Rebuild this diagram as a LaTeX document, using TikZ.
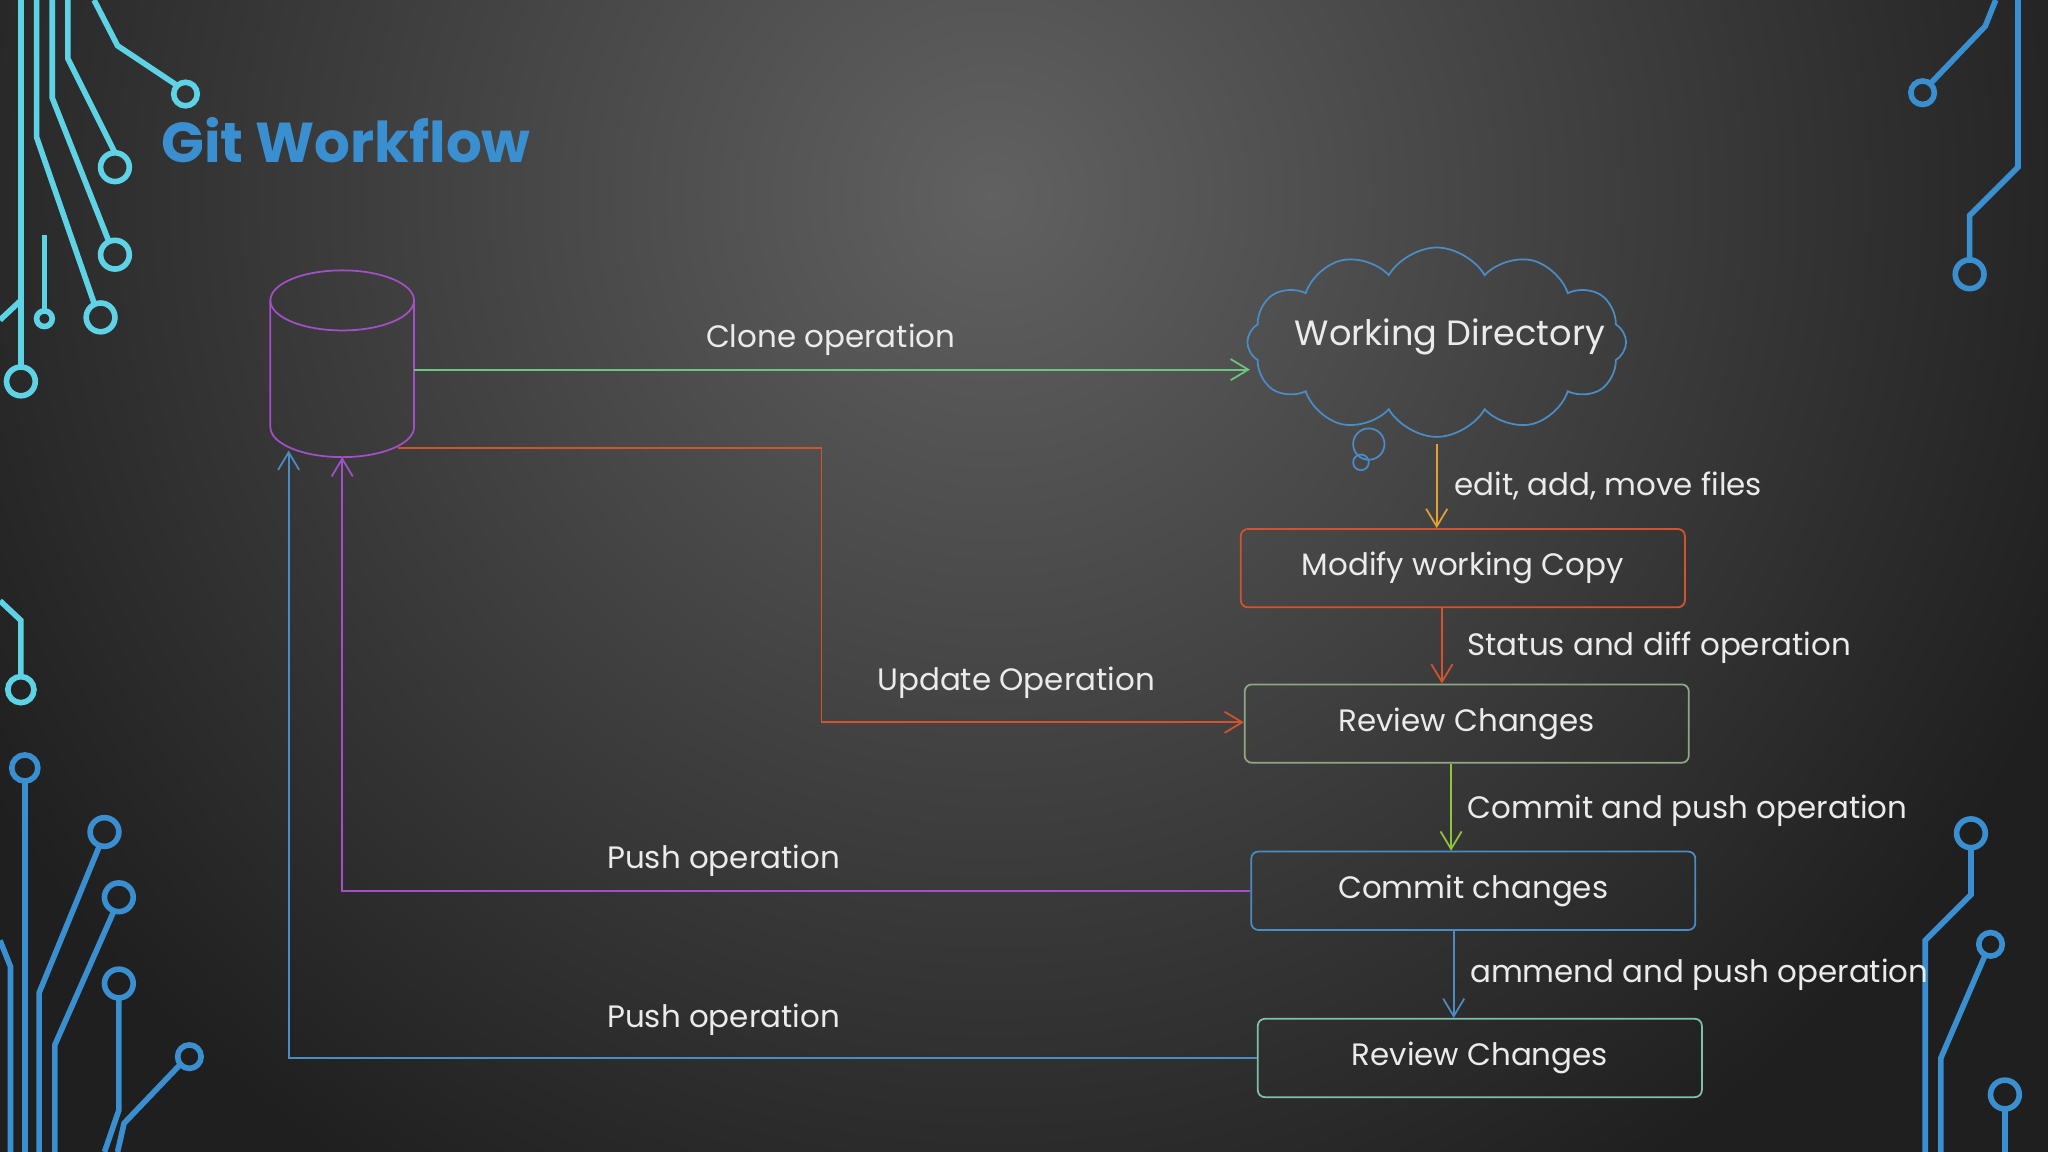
\documentclass[tikz,border=0pt]{standalone}
\usepackage{fontspec}
\setmainfont{Poppins}
\usetikzlibrary{shapes.symbols,arrows.meta}
\definecolor{cy}{HTML}{5ED3E6}
\definecolor{bl}{HTML}{3A8FD0}
\definecolor{pu}{HTML}{A24FC8}
\definecolor{gr}{HTML}{6FC383}
\definecolor{orr}{HTML}{D4532F}
\definecolor{org}{HTML}{E3A033}
\definecolor{lg}{HTML}{8FC43D}
\definecolor{cb}{HTML}{4A8CC4}
\definecolor{rv}{HTML}{8FA784}
\definecolor{rv2}{HTML}{7FC0A8}
\newlength\pxu \setlength\pxu{0.013061cm}
\tikzset{
 lbl/.style={text=white!92!black,font=\fontsize{8.8}{10}\selectfont,inner sep=0pt},
 bx/.style={draw,rounded corners=2pt,minimum width=340\pxu,minimum height=60\pxu,line width=0.5pt,lbl},
 ar/.style={line width=0.5pt,-{Straight Barb[length=5pt,width=6pt]}},
 deco/.style={line width=1.6pt},
}
\begin{document}
\begin{tikzpicture}[x=0.013061cm,y=-0.013061cm]
\useasboundingbox (0,0) rectangle (1568,882);
\fill[black!88] (0,0) rectangle (1568,882);
\begin{scope}
\clip (0,0) rectangle (1568,882);
\shade[inner color=black!62,outer color=black!88] (760,150) circle (900);
\end{scope}
% decorations
\begin{scope}[deco,cy]
\draw (16,0)--(16,281); \draw (16,292) circle (11);
\draw (40,0)--(40,75)--(83,184); \draw (88,195) circle (11);
\draw (72,0)--(90,35)--(135,65); \draw (142,72) circle (9);
\draw (28,0)--(28,105)--(72,232); \draw (77,243) circle (11);
\draw (52,0)--(52,45)--(88,117); \draw (88,128) circle (11);
\draw (34,180)--(34,238); \draw (34,244) circle (6);
\draw (0,245)--(16,230);
\draw (0,460)--(16,475)--(16,518); \draw (16,528) circle (10);
\end{scope}
\begin{scope}[deco,bl]
\draw (19,598)--(19,882); \draw (19,588) circle (10);
\draw (76,648)--(30,760)--(30,882); \draw (80,637) circle (11);
\draw (87,698)--(42,800)--(42,882); \draw (91,687) circle (11);
\draw (91,764)--(91,850)--(80,882); \draw (91,753) circle (11);
\draw (138,815)--(95,860)--(90,882); \draw (145,809) circle (9);
\draw (0,720)--(8,740)--(8,882);
\draw (1478,64)--(1520,20)--(1528,0); \draw (1472,71) circle (9);
\draw (1508,199)--(1508,165)--(1545,128)--(1545,0); \draw (1508,210) circle (11);
\draw (1509,649)--(1509,685)--(1474,720)--(1474,882); \draw (1509,638) circle (11);
\draw (1520,731)--(1486,810)--(1486,882); \draw (1524,723) circle (9);
\draw (1535,849)--(1535,882); \draw (1535,838) circle (11);
\end{scope}
% title
\node[anchor=west,text=bl,font=\fontsize{16}{19}\selectfont\bfseries,inner sep=0pt] (title) at (123,107) {Git Workflow};
% cylinder
\draw[pu,line width=0.5pt] (207,230) -- (207,327) arc[start angle=180,end angle=0,x radius=55,y radius=23] -- (317,230);
\draw[pu,line width=0.5pt] (262,230) ellipse (55 and 23);
\coordinate (cylR) at (317,283);
\coordinate (cylU) at (305,343);
\coordinate (cylP) at (262,350);
\coordinate (cylB) at (221,345);
% cloud
\node[cloud,draw=cb,line width=0.5pt,cloud puffs=12,cloud puff arc=120,aspect=2,minimum width=290\pxu,minimum height=145\pxu,inner sep=0pt] (wd) at (1100,262) {};
\node[lbl,font=\fontsize{10}{12}\selectfont] (wdt) at (1110,258) {Working Directory};
\draw[cb,line width=0.5pt] (1048,340) circle (12) (1042,354) circle (6);
% boxes
\node[bx,draw=orr] (mod) at (1120,435) {Modify working Copy};
\node[bx,draw=rv] (rev1) at (1123,554) {Review Changes};
\node[bx,draw=cb] (com) at (1128,682) {Commit changes};
\node[bx,draw=rv2] (rev2) at (1133,810) {Review Changes};
% arrows
\draw[ar,gr] (cylR) -- (957,283);
\node[lbl] (l1) at (636,260) {Clone operation};
\draw[ar,org] (1100,340) -- (mod.north -| 1100,0);
\node[lbl,anchor=west] (l2) at (1113,372) {edit, add, move files};
\draw[ar,orr] (mod.south -| 1104,0) -- (rev1.north -| 1104,0);
\node[lbl,anchor=west] (l3) at (1123,496) {Status and diff operation};
\draw[ar,lg] (rev1.south -| 1111,0) -- (com.north -| 1111,0);
\node[lbl,anchor=west] (l4) at (1123,621) {Commit and push operation};
\draw[ar,cb] (com.south -| 1113,0) -- (rev2.north -| 1113,0);
\node[lbl,anchor=west] (l5) at (1125,746) {ammend and push operation};
\draw[ar,orr] (cylU) -- (629,343) -- (629,553) -- (rev1.west |- 0,553);
\node[lbl] (l6) at (778,523) {Update Operation};
\draw[ar,pu] (com.west) -- (262,682) -- (cylP);
\node[lbl] (l7) at (554,659) {Push operation};
\draw[ar,cb] (rev2.west) -- (221,810) -- (cylB);
\node[lbl] (l8) at (554,781) {Push operation};
\end{tikzpicture}
\end{document}
